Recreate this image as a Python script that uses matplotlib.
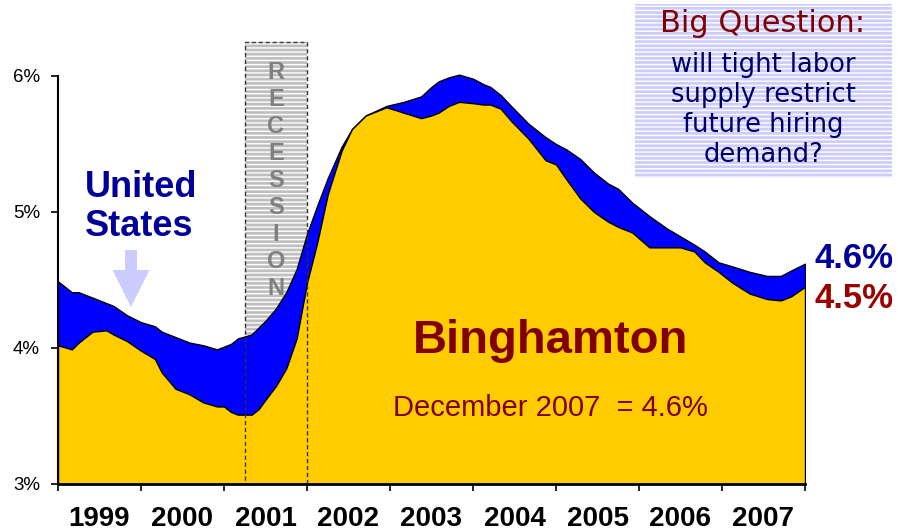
import matplotlib
matplotlib.use("Agg")
import matplotlib.pyplot as plt
from matplotlib.patches import Rectangle, FancyArrow
from matplotlib.transforms import IdentityTransform

plt.rcParams['font.family'] = ['Liberation Sans', 'DejaVu Sans']
plt.rcParams['hatch.linewidth'] = 1.0

# ---- data (months since Jan 1999) ----
months = [0, 2, 3, 5, 7, 8, 10, 12, 14, 15, 17, 19, 21, 23, 24, 25, 26, 28, 29, 30,
          31.5, 33, 34.5, 36, 37.5, 39, 41, 42.5, 44.5, 47.5, 50, 52.5, 54, 55, 56.5,
          58, 60, 61.5, 62.5, 64, 65.5, 68, 70.5, 72, 73.5, 75.5, 77.5, 79.5, 81, 83,
          85.5, 88, 90, 92, 93.5, 95.5, 97.5, 100, 102.5, 104.5, 106, 108]
us = [4.49, 4.41, 4.41, 4.37, 4.33, 4.31, 4.24, 4.19, 4.16, 4.12, 4.08, 4.04, 4.02, 3.99,
      4.01, 4.03, 4.07, 4.10, 4.15, 4.20, 4.29, 4.41, 4.58, 4.84, 5.05, 5.25, 5.48, 5.61,
      5.71, 5.78, 5.81, 5.85, 5.92, 5.96, 5.99, 6.01, 5.98, 5.94, 5.92, 5.86, 5.78, 5.65,
      5.55, 5.50, 5.46, 5.39, 5.29, 5.21, 5.17, 5.07, 4.97, 4.88, 4.82, 4.76, 4.71, 4.63,
      4.60, 4.56, 4.53, 4.53, 4.57, 4.62]
bing = [4.02, 3.99, 4.04, 4.12, 4.13, 4.10, 4.05, 3.98, 3.92, 3.82, 3.70, 3.66, 3.60, 3.57,
        3.57, 3.53, 3.51, 3.51, 3.55, 3.62, 3.72, 3.85, 4.07, 4.48, 4.78, 5.13, 5.45, 5.61,
        5.71, 5.77, 5.73, 5.69, 5.71, 5.73, 5.78, 5.81, 5.80, 5.79, 5.79, 5.76, 5.67, 5.54,
        5.38, 5.35, 5.24, 5.10, 5.00, 4.93, 4.89, 4.85, 4.74, 4.74, 4.74, 4.71, 4.63, 4.56,
        4.48, 4.40, 4.36, 4.35, 4.38, 4.45]
years = ['1999', '2000', '2001', '2002', '2003', '2004', '2005', '2006', '2007']
yticks = [3, 4, 5, 6]
recession = (27, 36)   # Apr 2001 .. Dec 2001 (month boundaries)
us_last = '4.6%'
bing_last = '4.5%'

YELLOW = '#FFCC00'
BLUE = '#0000FF'
NAVY = '#000099'
DRED = '#800000'

W, H = 902, 531
fig = plt.figure(figsize=(W / 100, H / 100), dpi=100)
ax = fig.add_axes([58 / W, 1 - 484 / H, (805 - 58) / W, 448.8 / H])
ax.set_xlim(0, 108)
ax.set_ylim(3, 6.3)

# recession band (striped background)
r0, r1 = recession
ax.add_patch(Rectangle((r0, 3), r1 - r0, 3.25, facecolor='#BFBFBF', edgecolor='white',
                       hatch='----', linewidth=0, zorder=1))
ax.text((r0 + r1) / 2, 5.23, '\n'.join('RECESSION'), ha='center', va='center',
        color='#808080', fontsize=17, fontweight='bold', linespacing=1.22, zorder=1.5)

# areas
ax.fill_between(months, 3, us, facecolor=BLUE, edgecolor='black', linewidth=1, zorder=2)
ax.fill_between(months, 3, bing, facecolor=YELLOW, edgecolor='black', linewidth=1, zorder=3)

# dashed recession outline on top
ax.add_patch(Rectangle((r0, 3), r1 - r0, 3.25, facecolor='none', edgecolor='#333333',
                       linestyle=(0, (3, 2)), linewidth=1, zorder=5))

# axes styling
for s in ['top', 'right']:
    ax.spines[s].set_visible(False)
ax.spines['left'].set_bounds(3, 6)
ax.spines['left'].set_linewidth(1.5)
ax.spines['bottom'].set_linewidth(2)
ax.spines['left'].set_zorder(6)
ax.spines['bottom'].set_zorder(6)
ax.set_yticks(yticks)
ax.set_yticklabels([f'{v}%' for v in yticks])
ax.tick_params(axis='y', length=5, width=1.2, pad=8, labelsize=13.5)
ax.set_xticks(range(0, 109, 12))
ax.set_xticklabels([])
ax.tick_params(axis='x', which='major', length=5, width=1.2)
ax.set_xticks([6 + 12 * i for i in range(len(years))], minor=True)
ax.set_xticklabels(years, minor=True, fontsize=20, fontweight='bold')
ax.tick_params(axis='x', which='minor', length=0, pad=16)

def ftext(x, y, s, **kw):
    fig.text(x / W, 1 - y / H, s, **kw)

# annotations
ftext(85, 207, 'United\nStates', ha='left', va='center', fontsize=26,
      fontweight='bold', color=NAVY, linespacing=1.12)
fig.add_artist(FancyArrow(131, H - 250, 0, -57, width=12, head_width=37, head_length=37,
                          length_includes_head=True, color='#CCCCFF', linewidth=0,
                          transform=IdentityTransform()))
ftext(551, 341, 'Binghamton', ha='center', va='center', fontsize=34,
      fontweight='bold', color=DRED, zorder=7)
ftext(550, 408, 'December 2007  = 4.6%', ha='center', va='center', fontsize=21,
      color=DRED, zorder=7)
ftext(854, 258, us_last, ha='center', va='center', fontsize=25, fontweight='bold', color=NAVY)
ftext(854, 298, bing_last, ha='center', va='center', fontsize=25, fontweight='bold', color='#990000')

# question box
fig.add_artist(Rectangle((635, H - 178), 257, 174, facecolor='#CCCCFF', edgecolor='white',
                         hatch='----', linewidth=0, transform=IdentityTransform()))
ftext(763, 24, 'Big Question:', ha='center', va='center', fontsize=22, color=DRED,
      family='DejaVu Sans')
ftext(763, 110, 'will tight labor\nsupply restrict\nfuture hiring\ndemand?', ha='center',
      va='center', fontsize=18.5, color='#000066', linespacing=1.2, family='DejaVu Sans')

fig.savefig('out.png', dpi=100)
